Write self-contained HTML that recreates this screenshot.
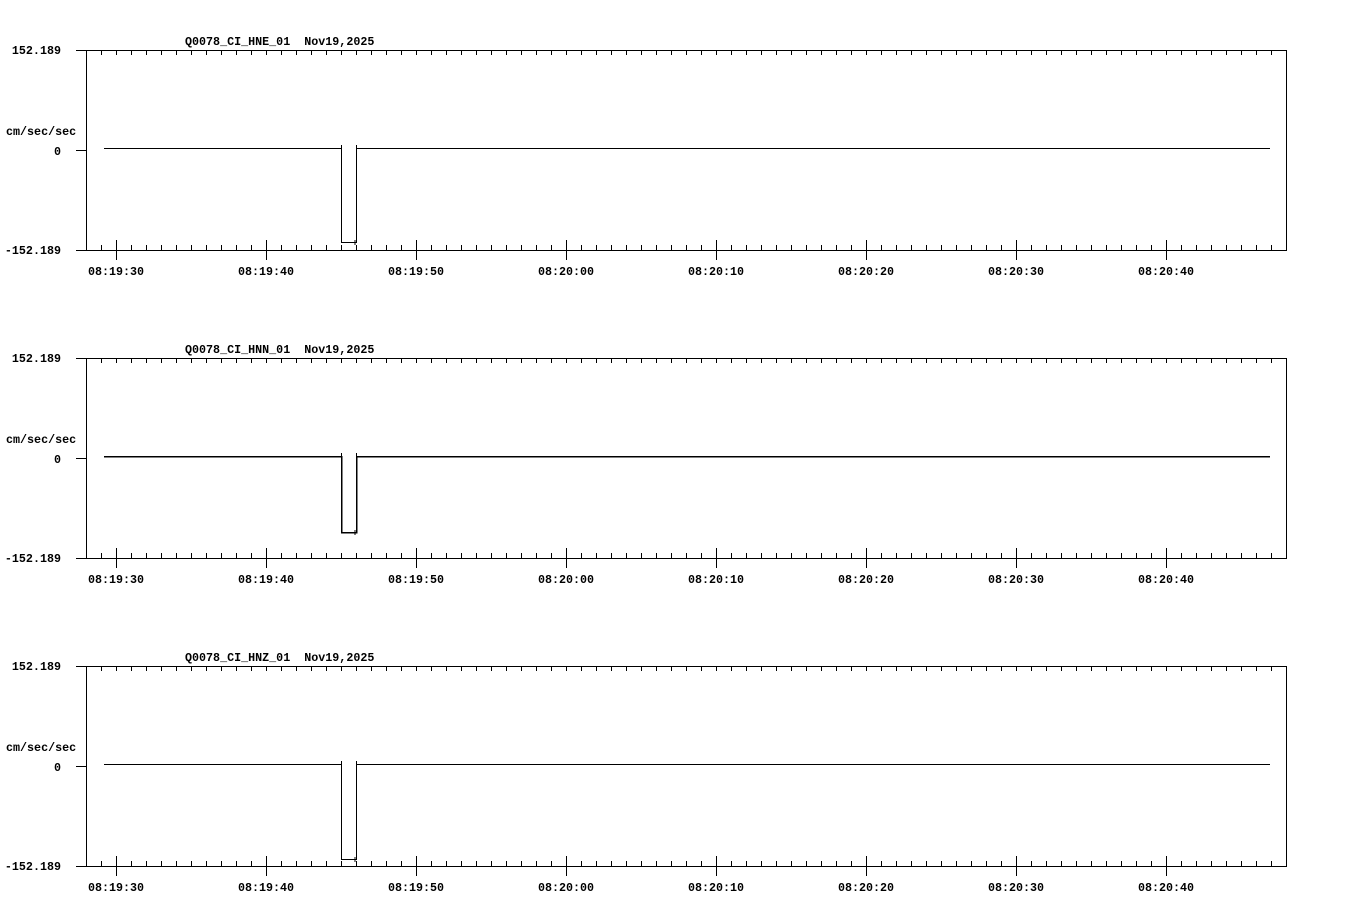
<!DOCTYPE html>
<html><head><meta charset="utf-8"><style>
html,body{margin:0;padding:0;background:#fff;}
svg{display:block;}
text{font-family:"Liberation Mono",monospace;font-weight:bold;font-size:11.7px;fill:#000;white-space:pre;}
</style></head><body>
<svg width="1358" height="924" xmlns="http://www.w3.org/2000/svg" shape-rendering="crispEdges">
<defs>
<g id="ax">
<rect x="86.5" y="50.5" width="1200" height="200" fill="none" stroke="#000" stroke-width="1"/>
<line x1="76" y1="50.5" x2="86" y2="50.5" stroke="#000"/>
<line x1="76" y1="150.5" x2="86" y2="150.5" stroke="#000"/>
<line x1="76" y1="250.5" x2="86" y2="250.5" stroke="#000"/>
<path id="tk" stroke="#000" stroke-width="1" d="M101.5 50v5M131.5 50v5M146.5 50v5M161.5 50v5M176.5 50v5M191.5 50v5M206.5 50v5M221.5 50v5M236.5 50v5M251.5 50v5M266.5 50v5M281.5 50v5M296.5 50v5M311.5 50v5M326.5 50v5M341.5 50v5M356.5 50v5M371.5 50v5M386.5 50v5M401.5 50v5M416.5 50v5M431.5 50v5M446.5 50v5M461.5 50v5M476.5 50v5M491.5 50v5M506.5 50v5M521.5 50v5M536.5 50v5M551.5 50v5M566.5 50v5M581.5 50v5M596.5 50v5M611.5 50v5M626.5 50v5M641.5 50v5M656.5 50v5M671.5 50v5M686.5 50v5M701.5 50v5M716.5 50v5M731.5 50v5M746.5 50v5M761.5 50v5M776.5 50v5M791.5 50v5M806.5 50v5M821.5 50v5M836.5 50v5M851.5 50v5M866.5 50v5M881.5 50v5M896.5 50v5M911.5 50v5M926.5 50v5M941.5 50v5M956.5 50v5M971.5 50v5M986.5 50v5M1001.5 50v5M1016.5 50v5M1031.5 50v5M1046.5 50v5M1061.5 50v5M1076.5 50v5M1091.5 50v5M1106.5 50v5M1121.5 50v5M1136.5 50v5M1151.5 50v5M1166.5 50v5M1181.5 50v5M1196.5 50v5M1211.5 50v5M1226.5 50v5M1241.5 50v5M1256.5 50v5M1271.5 50v5M116.5 50v5"/>
<use href="#tk" transform="translate(0,300) scale(1,-1)"/>
<path stroke="#000" d="M116.5 240v20M266.5 240v20M416.5 240v20M566.5 240v20M716.5 240v20M866.5 240v20M1016.5 240v20M1166.5 240v20"/>
<text x="61" y="54" text-anchor="end">152.189</text>
<text x="61" y="254" text-anchor="end">-152.189</text>
<text x="61" y="155" text-anchor="end">0</text>
<text x="6" y="135">cm/sec/sec</text>
<text x="116" y="275" text-anchor="middle">08:19:30</text>
<text x="266" y="275" text-anchor="middle">08:19:40</text>
<text x="416" y="275" text-anchor="middle">08:19:50</text>
<text x="566" y="275" text-anchor="middle">08:20:00</text>
<text x="716" y="275" text-anchor="middle">08:20:10</text>
<text x="866" y="275" text-anchor="middle">08:20:20</text>
<text x="1016" y="275" text-anchor="middle">08:20:30</text>
<text x="1166" y="275" text-anchor="middle">08:20:40</text>
</g>
</defs>
<g>
<use href="#ax"/>
<text x="185" y="45">Q0078_CI_HNE_01&#160;&#160;Nov19,2025</text>
<path fill="none" stroke="#000" d="M104 148.5H341.5V242.5H356.5V148.5H1270M341.5 145v6M356.5 145v6M355 240v5"/>
</g>
<g transform="translate(0,308)">
<use href="#ax"/>
<text x="185" y="45">Q0078_CI_HNN_01&#160;&#160;Nov19,2025</text>
<path fill="none" stroke="#000" stroke-width="1.5" d="M104 148.5H341.5V224.5H356.5V148.5H1270"/>
<path fill="none" stroke="#000" d="M341.5 145v6M356.5 145v6M355 222v5"/>
</g>
<g transform="translate(0,616)">
<use href="#ax"/>
<text x="185" y="45">Q0078_CI_HNZ_01&#160;&#160;Nov19,2025</text>
<path fill="none" stroke="#000" d="M104 148.5H341.5V243.5H356.5V148.5H1270M341.5 145v6M356.5 145v6M355 241v5"/>
</g>
</svg>
</body></html>
